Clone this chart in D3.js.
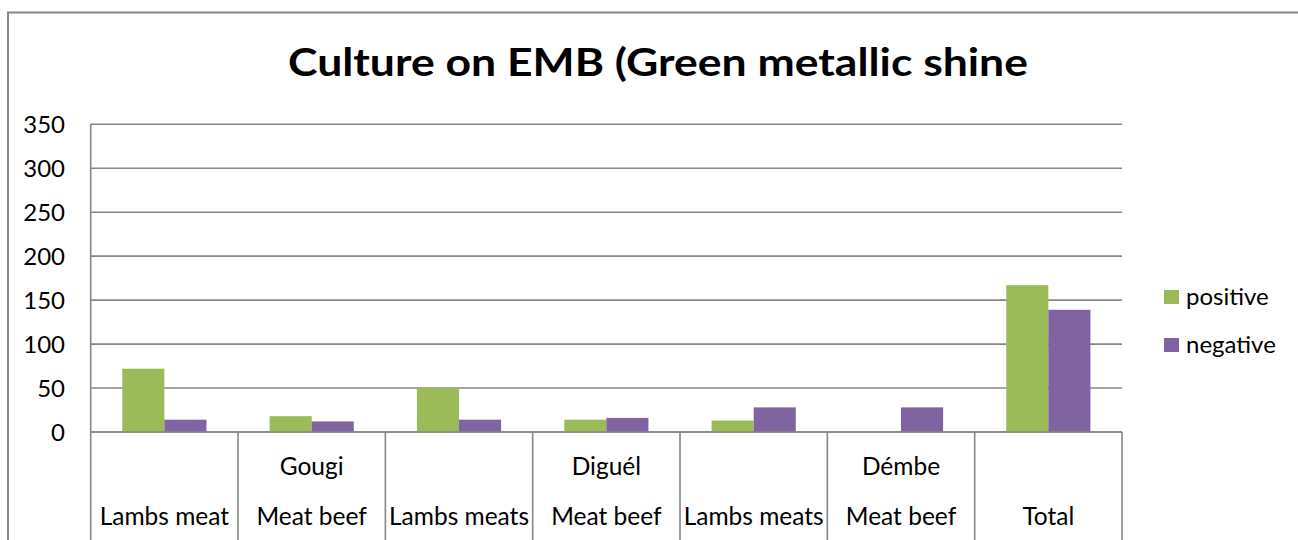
<!DOCTYPE html>
<html>
<head>
<meta charset="utf-8">
<script src="https://cdn.jsdelivr.net/npm/d3@7"></script>
<style>
  html, body { margin: 0; padding: 0; background: #fff; }
  svg { display: block; }
  text { font-family: Lato, "Open Sans", sans-serif; fill: #000; }
</style>
</head>
<body>
<svg id="chart" width="1298" height="540"></svg>
<script>
// ---- data ----
const title = "Culture on EMB (Green metallic shine";
const categories = ["c1", "c2", "c3", "c4", "c5", "c6", "c7"];
const groupLabels = ["", "Gougi", "", "Diguél", "", "Démbe", ""];
const itemLabels = ["Lambs meat", "Meat beef", "Lambs meats", "Meat beef", "Lambs meats", "Meat beef", "Total"];
const seriesNames = ["positive", "negative"];
const positive = [72, 18, 50, 14, 13, 0, 167];
const negative = [14, 12, 14, 16, 28, 28, 139];
const yTicks = [0, 50, 100, 150, 200, 250, 300, 350];
const colors = ["#9BBB59", "#8064A2"];

// ---- layout ----
const svg = d3.select("#chart");
const grid = "#868686";
const plot = { left: 90.7, right: 1122, top: 124.3, bottom: 432 };

// outer chart border (left + top visible)
svg.append("path")
  .attr("d", "M8,540 L8,12.5 L1298,12.5")
  .attr("fill", "none").attr("stroke", grid).attr("stroke-width", 2);

const x = d3.scaleBand().domain(categories).range([plot.left, plot.right]).paddingInner(0).paddingOuter(0);
const bw = x.bandwidth();
const barW = bw / 3.5;
const x1 = d3.scaleBand().domain(seriesNames).range([0.75 * barW, bw - 0.75 * barW]).padding(0);
const y = d3.scaleLinear().domain([0, 350]).range([plot.bottom, plot.top]);

// gridlines
svg.append("g").selectAll("line").data(yTicks).join("line")
  .attr("x1", plot.left).attr("x2", plot.right)
  .attr("y1", d => y(d)).attr("y2", d => y(d))
  .attr("stroke", grid).attr("stroke-width", 1.6);

// y axis tick labels
const yAxis = d3.axisLeft(y).tickValues(yTicks).tickSize(0).tickPadding(0);
const ya = svg.append("g").attr("transform", `translate(65,0)`).call(yAxis);
ya.select(".domain").remove();
ya.selectAll("text").attr("font-size", 24).style("font-family", "Lato, 'Open Sans', sans-serif").attr("fill", "#000").attr("dy", "0.35em");

// bars
const data = categories.map((c, i) => ({ c, vals: [positive[i], negative[i]] }));
const gBars = svg.append("g");
data.forEach(d => {
  gBars.selectAll(null).data(seriesNames.map((s, j) => ({ s, v: d.vals[j], j }))).join("rect")
    .attr("x", e => x(d.c) + x1(e.s))
    .attr("width", x1.bandwidth())
    .attr("y", e => y(e.v))
    .attr("height", e => y(0) - y(e.v))
    .attr("fill", e => colors[e.j]);
});

// zero line on top of bars
svg.append("line").attr("x1", plot.left).attr("x2", plot.right)
  .attr("y1", y(0)).attr("y2", y(0)).attr("stroke", grid).attr("stroke-width", 1.6);

// left axis line
svg.append("line").attr("x1", plot.left).attr("x2", plot.left)
  .attr("y1", plot.top).attr("y2", 540).attr("stroke", grid).attr("stroke-width", 1.6);

// category dividers
const bounds = categories.map(c => x(c) + bw);
svg.append("g").selectAll("line").data(bounds).join("line")
  .attr("x1", d => d).attr("x2", d => d)
  .attr("y1", plot.bottom).attr("y2", 540)
  .attr("stroke", grid).attr("stroke-width", 1.6);

// category labels
svg.append("g").selectAll("text").data(categories).join("text")
  .attr("x", c => x(c) + bw / 2).attr("y", 475)
  .attr("text-anchor", "middle").attr("font-size", 24.5)
  .text((c, i) => groupLabels[i]);
svg.append("g").selectAll("text").data(categories).join("text")
  .attr("x", c => x(c) + bw / 2).attr("y", 525)
  .attr("text-anchor", "middle").attr("font-size", 24.5)
  .text((c, i) => itemLabels[i]);

// title
svg.append("text").attr("x", 658).attr("y", 76)
  .attr("text-anchor", "middle").attr("font-weight", "bold").attr("font-size", 39)
  .attr("textLength", 740).attr("lengthAdjust", "spacingAndGlyphs")
  .text(title);

// legend
const lg = svg.append("g").selectAll("g").data(seriesNames).join("g")
  .attr("transform", (d, i) => `translate(1164,${290 + i * 48})`);
lg.append("rect").attr("width", 15).attr("height", 14).attr("fill", (d, i) => colors[i]);
lg.append("text").attr("x", 22).attr("y", 7).attr("dy", "0.35em").attr("font-size", 24).text(d => d);
</script>
</body>
</html>
